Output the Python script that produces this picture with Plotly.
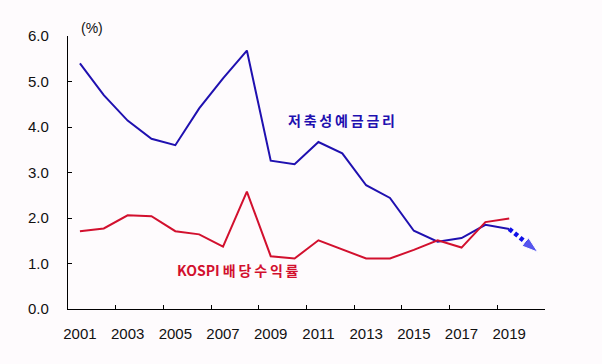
import plotly.graph_objects as go

years = list(range(2001, 2020))
deposit_rate = [5.40, 4.70, 4.14, 3.74, 3.60, 4.41, 5.07, 5.68, 3.26, 3.18,
                3.67, 3.42, 2.72, 2.44, 1.72, 1.48, 1.56, 1.85, 1.76]
kospi_yield = [1.71, 1.77, 2.06, 2.04, 1.71, 1.64, 1.37, 2.58, 1.16, 1.11,
               1.51, 1.31, 1.11, 1.11, 1.30, 1.51, 1.35, 1.91, 1.99]
arrow_x = [2019, 2020.2]
arrow_y = [1.76, 1.25]
label_years = list(range(2001, 2021, 2))
boundary_ticks = [y + 1.5 for y in range(2001, 2021, 2)]
y_ticks = [0, 1, 2, 3, 4, 5, 6]

BLUE = "#1f10b0"
ARROW_BLUE = "#1010e8"
RED = "#d2102e"
FONT = "Liberation Sans, Arial, sans-serif"
KFONT = "Noto Sans CJK KR, sans-serif"
TS = "\u2009"

fig = go.Figure()
fig.add_trace(go.Scatter(x=years, y=deposit_rate, mode="lines",
                         line=dict(color=BLUE, width=2), showlegend=False))
fig.add_trace(go.Scatter(x=years, y=kospi_yield, mode="lines",
                         line=dict(color=RED, width=2), showlegend=False))
fig.add_trace(go.Scatter(x=arrow_x, y=arrow_y, mode="lines+markers",
                         line=dict(color=ARROW_BLUE, width=4.5, dash="4px,3px"),
                         marker=dict(symbol="arrow", angleref="previous",
                                     size=[0, 17], color=ARROW_BLUE),
                         showlegend=False, cliponaxis=False))
# invisible trace on label axis
fig.add_trace(go.Scatter(x=[years[0]], y=[0], xaxis="x2", mode="markers",
                         marker=dict(opacity=0), showlegend=False, hoverinfo="skip"))

L, R, T, B = 68, 57, 36, 55
W, H = 602, 364
pw, ph = W - L - R, H - T - B

fig.update_layout(
    width=W, height=H,
    margin=dict(l=L, r=R, t=T, b=B, autoexpand=False),
    paper_bgcolor="#fefbfd", plot_bgcolor="#fefbfd",
    font=dict(family=FONT, size=14, color="#111111"),
    xaxis=dict(range=[2000.5, 2020.5], tickmode="array", tickvals=boundary_ticks,
               ticktext=["" for _ in boundary_ticks], ticks="inside", ticklen=4,
               tickcolor="#000", showline=True, linecolor="#000", linewidth=1.3,
               showgrid=False, zeroline=False, automargin=False),
    xaxis2=dict(range=[2000.5, 2020.5], overlaying="x", side="bottom",
                tickmode="array", tickvals=label_years,
                ticktext=[str(y) for y in label_years], ticks="",
                ticklabelstandoff=14, showline=False, showgrid=False, zeroline=False,
                automargin=False,
                tickfont=dict(family=FONT, size=15, color="#111")),
    yaxis=dict(range=[0, 6], tickmode="array", tickvals=y_ticks,
               ticktext=[f"{v:.1f}" for v in y_ticks], ticks="inside", ticklen=4,
               tickcolor="#000", showline=True, linecolor="#000", linewidth=1.3,
               showgrid=False, zeroline=False, ticklabelstandoff=15, automargin=False,
               tickfont=dict(family=FONT, size=15, color="#111")),
    annotations=[
        dict(x=(92 - L) / pw, y=(H - B - 28) / ph, xref="paper", yref="paper",
             text="(%)", showarrow=False, xanchor="center", yanchor="middle",
             font=dict(family=FONT, size=14, color="#111")),
        dict(x=2011.95, y=4.16, xref="x", yref="y",
             text="<b>" + TS.join("저축성예금금리") + "</b>",
             showarrow=False, font=dict(family=KFONT, size=14, color=BLUE)),
        dict(x=2007.62, y=0.85, xref="x", yref="y",
             text="<b>KOSPI " + TS.join("배당수익률") + "</b>",
             showarrow=False, font=dict(family=KFONT, size=14, color=RED)),
    ],
)

fig.write_html("out.html", config={"displayModeBar": False},
               post_script="document.body.style.margin='0';")
